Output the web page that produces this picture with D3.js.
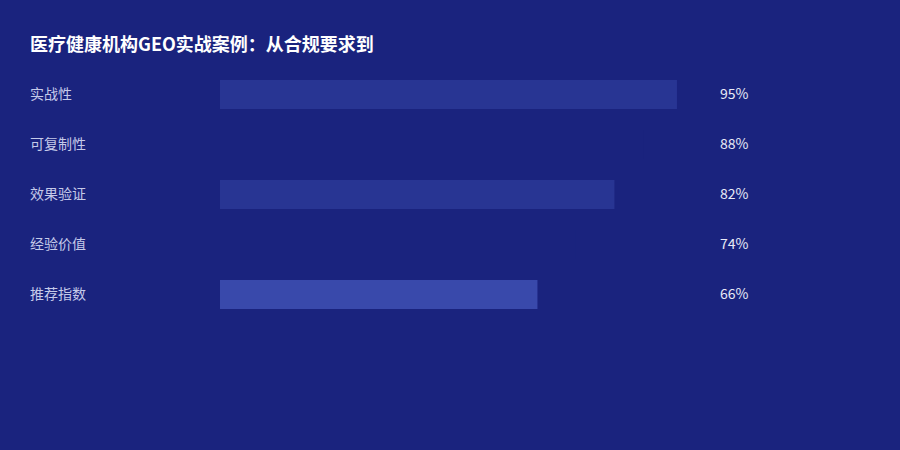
<!DOCTYPE html>
<html>
<head>
<meta charset="utf-8">
<script src="https://cdn.jsdelivr.net/npm/d3@7"></script>
<style>
  body { margin:0; background:#1a237e; }
  text { font-family: "Noto Sans CJK SC", "Noto Sans", sans-serif; }
</style>
</head>
<body>
<div class="chart"></div>
<script>
const categories = ["实战性", "可复制性", "效果验证", "经验价值", "推荐指数"];
const values = [95, 88, 82, 74, 66];
const barColors = ["#283593", "#1a237e", "#283593", "#1a237e", "#3949ab"];
const title = "医疗健康机构GEO实战案例：从合规要求到";

let width = 900, height = 450;
let svg = d3.select(".chart")
            .append("svg")
            .attr("width", width)
            .attr("height", height);

svg.append("rect")
   .attr("width", width)
   .attr("height", height)
   .attr("fill", "#1a237e");

svg.append("text")
   .attr("x", 30)
   .attr("y", 51)
   .attr("fill", "#ffffff")
   .attr("font-size", 18)
   .attr("font-weight", "bold")
   .text(title);

let xScale = d3.scaleLinear()
               .domain([0, 100])
               .range([220, 701]);
let yScale = d3.scaleBand()
               .domain(categories)
               .range([69.5, 319.5])
               .paddingInner(0.42)
               .paddingOuter(0.21);

let rows = svg.selectAll(".row")
              .data(categories)
              .enter()
              .append("g")
              .attr("class", "row");

rows.append("rect")
    .attr("x", xScale(0))
    .attr("y", d => yScale(d))
    .attr("width", (d, i) => xScale(values[i]) - xScale(0))
    .attr("height", yScale.bandwidth())
    .attr("fill", (d, i) => barColors[i]);

rows.append("text")
    .attr("x", 30)
    .attr("y", d => yScale(d) + yScale.bandwidth() / 2)
    .attr("dy", "0.35em")
    .attr("fill", "#c5cae9")
    .attr("font-size", 14)
    .text(d => d);

rows.append("text")
    .attr("x", 720)
    .attr("y", d => yScale(d) + yScale.bandwidth() / 2)
    .attr("dy", "0.35em")
    .attr("fill", "#e8eaf6")
    .attr("font-size", 14)
    .text((d, i) => values[i] + "%");
</script>
</body>
</html>
